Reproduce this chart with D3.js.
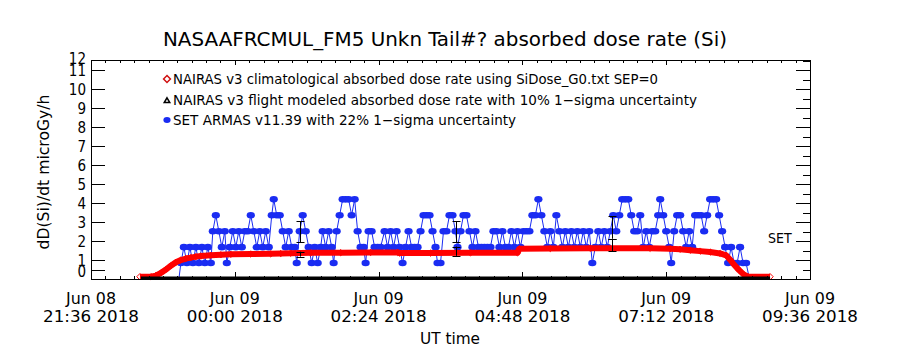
<!DOCTYPE html>
<html><head><meta charset="utf-8">
<script src="https://cdn.jsdelivr.net/npm/d3@7"></script>
<style>
body{margin:0;background:#fff}
svg{display:block}
text{font-family:"DejaVu Sans Condensed","Liberation Sans Narrow","DejaVu Sans",sans-serif;fill:#000}
</style></head><body>
<svg id="chart" width="900" height="350"></svg>
<script>
// ---- data -------------------------------------------------------------
// time axis: minutes after 2018-06-08 21:36 UT
const axisStartUT = "2018-06-08T21:36:00Z";
const axisSpanMinutes = 720;
const xTickMinutes = [0, 144, 288, 432, 576, 720];
const xMinorStepMinutes = 14.4;

const yTickValues = [0.48, 1, 2, 3, 4, 5, 6, 7, 8, 9, 10, 11, 11.55];
const yTickLabels = ["0", "1", "2", "3", "4", "5", "6", "7", "8", "9", "10", "11", "12"];
const yMax = 11.55;

// NAIRAS v3 climatological absorbed dose rate (microGy/h)
const nairasClimMinutes = [49, 60, 65, 70, 75, 80, 85, 90, 95, 100, 105, 110, 120, 130, 140, 160, 180, 190, 200, 220, 250, 280, 307, 309, 340, 380, 427, 429, 460, 500, 560, 580, 590, 600, 610, 620, 630, 636, 640, 644, 649, 654, 658, 680];
const nairasClimDose = [0.12, 0.12, 0.18, 0.32, 0.5, 0.7, 0.88, 1.0, 1.08, 1.13, 1.18, 1.21, 1.25, 1.28, 1.3, 1.32, 1.33, 1.34, 1.36, 1.38, 1.39, 1.4, 1.4, 1.37, 1.37, 1.38, 1.38, 1.6, 1.61, 1.62, 1.62, 1.6, 1.57, 1.52, 1.47, 1.42, 1.35, 1.25, 1.02, 0.75, 0.47, 0.22, 0.12, 0.12];

// NAIRAS v3 flight modeled dose rate
const nairasFlightMinutes = [50, 60, 70, 80, 90, 100, 110, 120, 130, 140, 150, 160, 170, 180, 190, 200, 210, 220, 230, 240, 250, 260, 270, 280, 290, 300, 310, 320, 330, 340, 350, 360, 370, 380, 390, 400, 410, 420, 430, 440, 450, 460, 470, 480, 490, 500, 510, 520, 530, 540, 550, 560, 570, 580, 590, 600, 610, 620, 630, 640, 650, 660, 670, 680];
const nairasFlightDose = [0, 0, 0, 0, 0, 0, 0, 0, 0, 0, 0, 0, 0, 0, 0, 0, 0, 0, 0, 0, 0, 0, 0, 0, 0, 0, 0, 0, 0, 0, 0, 0, 0, 0, 0, 0, 0, 0, 0, 0, 0, 0, 0, 0, 0, 0, 0, 0, 0, 0, 0, 0, 0, 0, 0, 0, 0, 0, 0, 0, 0, 0, 0, 0];
const nairasModelMinutes = [209, 366, 522];
const nairasModelLow = [1.18, 1.22, 1.48];
const nairasModelHigh = [1.44, 1.71, 2.1];

// SET ARMAS v11.39 measured dose rate
const armasMinutes = [88, 90, 93, 96, 99, 102, 105, 108, 111, 114, 117, 120, 122, 125, 128, 131, 134, 136, 139, 142, 145, 148, 151, 154, 157, 160, 163, 166, 169, 172, 175, 178, 181, 183, 186, 189, 192, 195, 198, 201, 204, 206, 209, 212, 215, 218, 221, 224, 227, 230, 232, 235, 238, 241, 243, 246, 249, 252, 255, 258, 261, 264, 267, 270, 273, 275, 278, 281, 284, 287, 290, 294, 297, 300, 303, 306, 309, 312, 315, 318, 321, 324, 327, 330, 333, 336, 339, 342, 345, 347, 350, 353, 356, 359, 362, 365, 367, 370, 373, 376, 379, 382, 385, 388, 391, 394, 397, 400, 403, 406, 409, 412, 415, 418, 421, 424, 427, 430, 433, 436, 439, 442, 445, 448, 451, 454, 457, 460, 463, 466, 469, 472, 475, 478, 481, 484, 487, 490, 493, 496, 499, 502, 505, 508, 511, 514, 517, 520, 523, 526, 529, 532, 535, 538, 541, 544, 547, 550, 553, 556, 559, 562, 565, 568, 570, 573, 576, 579, 581, 584, 587, 590, 593, 596, 599, 602, 605, 608, 611, 614, 617, 620, 623, 626, 629, 632, 635, 638, 641, 644, 647, 650, 653, 656, 659];
const armasDose = [0, 0.84, 1.68, 0.84, 1.68, 0.84, 1.68, 0.84, 1.68, 0.84, 1.68, 0.84, 2.52, 3.36, 2.52, 1.68, 2.52, 0.84, 1.68, 2.52, 1.68, 2.52, 1.68, 2.52, 2.52, 3.36, 2.52, 1.68, 2.52, 1.68, 2.52, 1.68, 3.36, 4.2, 3.36, 3.36, 2.52, 1.68, 2.52, 1.68, 1.68, 0.84, 2.52, 3.36, 2.52, 1.68, 0.84, 1.68, 0.84, 1.68, 2.52, 1.68, 2.52, 1.68, 0.84, 2.52, 3.36, 4.2, 4.2, 4.2, 3.36, 4.2, 2.52, 1.68, 1.68, 0.84, 2.52, 2.52, 1.68, 1.68, 1.68, 2.52, 1.68, 2.52, 1.68, 2.52, 1.68, 0.84, 1.68, 2.52, 1.68, 1.68, 1.68, 2.52, 3.36, 3.36, 3.36, 2.52, 1.68, 0.84, 0.84, 2.52, 2.52, 3.36, 3.36, 2.52, 1.68, 2.52, 3.36, 3.36, 2.52, 1.68, 2.52, 1.68, 1.68, 1.68, 1.68, 1.68, 2.52, 2.52, 1.68, 2.52, 1.68, 1.68, 2.52, 1.68, 2.52, 1.68, 2.52, 2.52, 2.52, 3.36, 3.36, 4.2, 3.36, 2.52, 1.68, 2.52, 1.68, 3.36, 2.52, 1.68, 2.52, 1.68, 2.52, 1.68, 2.52, 1.68, 2.52, 1.68, 2.52, 0.84, 1.68, 2.52, 1.68, 2.52, 1.68, 2.52, 3.36, 2.52, 3.36, 4.2, 4.2, 4.2, 3.36, 2.52, 2.52, 3.36, 1.68, 2.52, 1.68, 2.52, 2.52, 3.36, 4.2, 3.36, 2.52, 1.68, 0.84, 2.52, 3.36, 3.36, 2.52, 1.68, 2.52, 1.68, 3.36, 3.36, 3.36, 2.52, 3.36, 4.2, 4.2, 4.2, 3.36, 2.52, 1.68, 0.84, 1.68, 0.84, 0.84, 1.68, 0.84, 0.84, 0.1];
const armasMeanMinutes = [209, 366, 522];
const armasMeanDose = [2.5, 2.5, 2.72];
const armasUncertainty = 0.22;

const titleText = "NASAAFRCMUL_FM5 Unkn Tail#? absorbed dose rate (Si)";
const legendLabels = [
  "NAIRAS v3 climatological absorbed dose rate using SiDose_G0.txt SEP=0",
  "NAIRAS v3 flight modeled absorbed dose rate with 10% 1\u2212sigma uncertainty",
  "SET ARMAS v11.39 with 22% 1\u2212sigma uncertainty"
];

// ---- layout -----------------------------------------------------------
const svg = d3.select("#chart");
const box = {left: 91, right: 810, top: 60, bottom: 279};
const t0 = new Date(axisStartUT).getTime();
const toDate = m => new Date(t0 + m * 60000);

const x = d3.scaleUtc().domain([toDate(0), toDate(axisSpanMinutes)]).range([box.left, box.right]);
const y = d3.scaleLinear().domain([0, yMax]).range([box.bottom, box.top]);

const BLUE = "#1a2cf2", RED = "#ff0000";

// fit a text element to a given width by scaling its glyphs horizontally
function fitWidth(sel, w) {
  sel.attr("textLength", w).attr("lengthAdjust", "spacingAndGlyphs");
  return sel;
}

// ---- series -----------------------------------------------------------
const plot = svg.append("g");

// ARMAS: markers joined by thin lines
const armas = armasMinutes.map((m, i) => [toDate(m), armasDose[i]]);
plot.append("path")
  .attr("d", d3.line().x(d => x(d[0])).y(d => y(d[1]))(armas))
  .attr("fill", "none").attr("stroke", BLUE).attr("stroke-width", 1);
plot.append("g").selectAll("ellipse").data(armas.filter(d => d[1] > 0.5)).join("ellipse")
  .attr("cx", d => x(d[0])).attr("cy", d => y(d[1]))
  .attr("rx", 4.1).attr("ry", 3.3).attr("fill", BLUE);

// NAIRAS climatological: dense open diamonds
const clim = nairasClimMinutes.map((m, i) => [toDate(m), nairasClimDose[i]]);
plot.append("path")
  .attr("d", d3.line().x(d => x(d[0])).y(d => y(d[1]))(clim))
  .attr("fill", "none").attr("stroke", RED).attr("stroke-width", 6)
  .attr("stroke-linejoin", "round");
const diamond = d3.symbol().type(d3.symbolDiamond2).size(26);
plot.append("g").selectAll("path").data(clim).join("path")
  .attr("transform", d => `translate(${x(d[0])},${y(d[1])})`)
  .attr("d", diamond).attr("fill", "none").attr("stroke", RED).attr("stroke-width", 1);

// NAIRAS flight modeled: open triangles packed along the baseline
const flight = nairasFlightMinutes.map((m, i) => [toDate(m), nairasFlightDose[i]]);
plot.append("path")
  .attr("d", d3.line().x(d => x(d[0])).y(d => y(d[1]) - 1)(flight))
  .attr("fill", "none").attr("stroke", "#000").attr("stroke-width", 3);

// error bars
function errorBar(g, xm, lo, hi) {
  const xc = Math.round(x(toDate(xm))) + 0.5;
  g.append("line").attr("x1", xc).attr("x2", xc).attr("y1", y(lo)).attr("y2", y(hi));
  [lo, hi].forEach(v => g.append("line").attr("x1", xc - 4).attr("x2", xc + 4)
    .attr("y1", Math.round(y(v)) + 0.5).attr("y2", Math.round(y(v)) + 0.5));
}
const eb = plot.append("g").attr("stroke", "#000").attr("stroke-width", 1);
armasMeanMinutes.forEach((m, i) => errorBar(eb, m,
  armasMeanDose[i] * (1 - armasUncertainty), armasMeanDose[i] * (1 + armasUncertainty)));
nairasModelMinutes.forEach((m, i) => errorBar(eb, m, nairasModelLow[i], nairasModelHigh[i]));

// ---- axes -------------------------------------------------------------
const ax = svg.append("g").attr("stroke", "#000").attr("stroke-width", 1).attr("fill", "none");
ax.append("rect").attr("x", box.left + 0.5).attr("y", box.top + 0.5)
  .attr("width", box.right - box.left).attr("height", box.bottom - box.top);

const minorMinutes = d3.range(0, axisSpanMinutes + 0.1, xMinorStepMinutes);
minorMinutes.forEach(m => {
  const xx = Math.round(x(toDate(m))) + 0.5;
  ax.append("line").attr("x1", xx).attr("x2", xx).attr("y1", box.bottom).attr("y2", box.bottom - 3);
  ax.append("line").attr("x1", xx).attr("x2", xx).attr("y1", box.top).attr("y2", box.top + 3);
});
xTickMinutes.forEach(m => {
  const xx = Math.round(x(toDate(m))) + 0.5;
  ax.append("line").attr("x1", xx).attr("x2", xx).attr("y1", box.bottom).attr("y2", box.bottom - 7);
  ax.append("line").attr("x1", xx).attr("x2", xx).attr("y1", box.top).attr("y2", box.top + 5);
});
yTickValues.forEach(v => {
  const yy = Math.round(y(v)) + 0.5;
  ax.append("line").attr("x1", box.left).attr("x2", box.left + 14).attr("y1", yy).attr("y2", yy);
});
d3.range(1, 24).forEach(k => {
  const yy = Math.round(y(k / 2)) + 0.5;
  ax.append("line").attr("x1", box.right).attr("x2", box.right - (k % 2 === 0 ? 14 : 7)).attr("y1", yy).attr("y2", yy);
});

// x tick labels: date over time
const fmtDay = d3.utcFormat("%b %d"), fmtTime = d3.utcFormat("%H:%M %Y");
const xl = svg.append("g").attr("text-anchor", "middle").attr("font-size", 15);
xTickMinutes.forEach(m => {
  const d = toDate(m), xx = x(d);
  fitWidth(xl.append("text").attr("x", xx).attr("y", 304).text(fmtDay(d)), 50);
  fitWidth(xl.append("text").attr("x", xx).attr("y", 322).text(fmtTime(d)), 96);
});
fitWidth(svg.append("text").attr("x", 450).attr("y", 344).attr("text-anchor", "middle")
  .attr("font-size", 16).text("UT time"), 60);

// y tick labels; the end labels sit tight against their neighbours, so
// they are eased outward a little
const yl = svg.append("g").attr("text-anchor", "end").attr("font-size", 15);
const lastTick = yTickValues.length - 1;
yTickValues.forEach((v, i) => {
  const nudge = i === 0 ? 2 : (i === lastTick ? -2 : 0);
  yl.append("text").attr("x", 86).attr("y", y(v) + 5.5 + nudge).text(yTickLabels[i]);
});
fitWidth(svg.append("text").attr("transform", "translate(49,172) rotate(-90)")
  .attr("text-anchor", "middle").attr("font-size", 16).text("dD(Si)/dt microGy/h"), 155);

fitWidth(svg.append("text").attr("x", 445).attr("y", 46).attr("text-anchor", "middle")
  .attr("font-size", 20).text(titleText), 564);

svg.append("text").attr("x", 768).attr("y", 243).attr("font-size", 14).text("SET");

// legend
const lg = svg.append("g").attr("font-size", 14);
const legendY = [79, 100, 120];
const legendWidths = [485, 524, 343];
lg.append("path").attr("transform", `translate(167,${legendY[0]})`)
  .attr("d", d3.symbol().type(d3.symbolDiamond2).size(30)).attr("fill", "none").attr("stroke", "#d01010").attr("stroke-width", 1.5);
lg.append("path").attr("transform", `translate(167,${legendY[1] + 1})`)
  .attr("d", d3.symbol().type(d3.symbolTriangle2).size(22)).attr("fill", "none").attr("stroke", "#000").attr("stroke-width", 1.5);
lg.append("ellipse").attr("cx", 167).attr("cy", legendY[2]).attr("rx", 3.6).attr("ry", 3).attr("fill", BLUE);
legendLabels.forEach((t, i) => fitWidth(lg.append("text").attr("x", 173).attr("y", legendY[i] + 5).text(t), legendWidths[i]));
</script>
</body></html>
